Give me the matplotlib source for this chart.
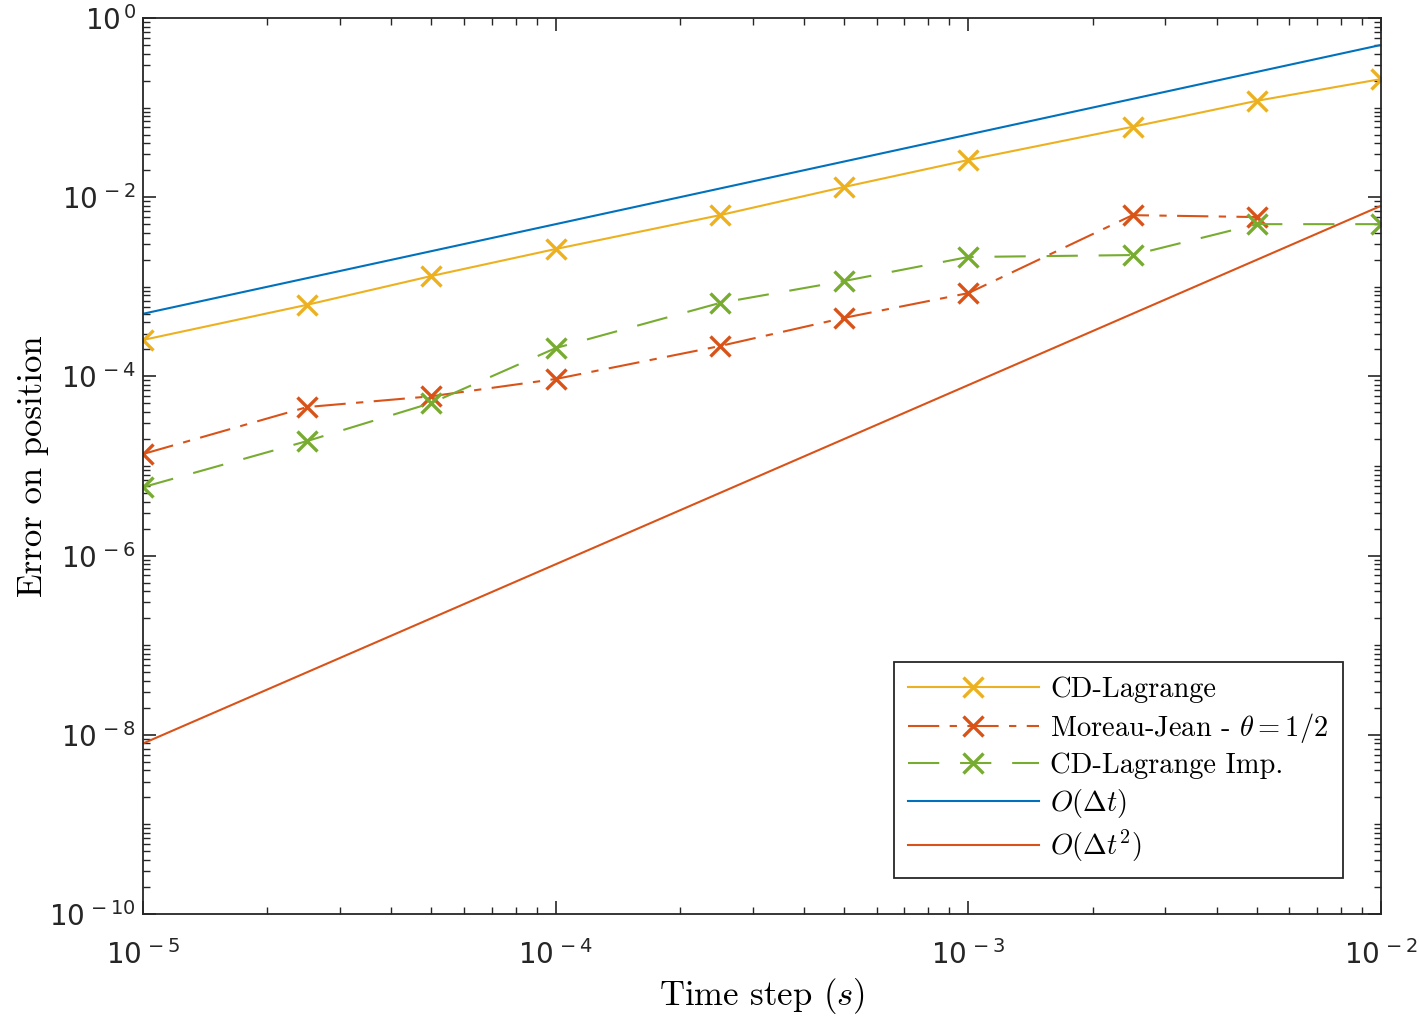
import matplotlib
matplotlib.use('Agg')
import matplotlib.pyplot as plt
import numpy as np
from matplotlib.ticker import LogLocator, FuncFormatter, NullFormatter

plt.rcParams['mathtext.fontset'] = 'cm'

# time steps (s)
dt = [1e-5, 2.5e-5, 5e-5, 1e-4, 2.5e-4, 5e-4, 1e-3, 2.5e-3, 5e-3, 1e-2]

# error on position
err_cd = [2.55e-4, 6.3e-4, 1.32e-3, 2.64e-3, 6.3e-3, 1.3e-2, 2.6e-2, 6.1e-2, 0.119, 0.208]
err_mj = [1.36e-5, 4.55e-5, 6.0e-5, 9.35e-5, 2.18e-4, 4.5e-4, 8.5e-4, 6.3e-3, 6.0e-3]
err_cdi = [5.8e-6, 1.9e-5, 5.05e-5, 2.07e-4, 6.6e-4, 1.16e-3, 2.15e-3, 2.26e-3, 5.0e-3, 5.0e-3]

# reference slopes
ref_dt = [1e-5, 1e-2]
ref_o1 = [5e-4, 0.5]
ref_o2 = [8e-9, 8e-3]

c_blue = '#0072BD'
c_red = '#D95319'
c_yel = '#EDB120'
c_grn = '#77AC30'

fig = plt.figure(figsize=(14.19, 10.16), dpi=100)
ax = fig.add_axes([0.1008, 0.1004, 0.8724, 0.8819])

ax.loglog(dt, err_cd, '-', color=c_yel, lw=1.5, marker='x', ms=14, mew=2.4,
          label='CD-Lagrange')
ax.loglog(dt[:len(err_mj)], err_mj, color=c_red, lw=1.5, ls=(0, (15, 5, 3.5, 5)),
          marker='x', ms=14, mew=2.4, label=r'Moreau-Jean - $\theta = 1/2$')
ax.loglog(dt, err_cdi, color=c_grn, lw=1.5, ls=(0, (15, 10)),
          marker='x', ms=14, mew=2.4, label='CD-Lagrange Imp.')
ax.loglog(ref_dt, ref_o1, '-', color=c_blue, lw=1.5, label=r'$O(\Delta t)$')
ax.loglog(ref_dt, ref_o2, '-', color=c_red, lw=1.5, label=r'$O(\Delta t^2)$')

ax.set_xlim(1e-5, 1e-2)
ax.set_ylim(1e-10, 1)

fmt = FuncFormatter(lambda v, p: r'$\mathregular{10^{\,%d}}$' % round(np.log10(v)))
ax.xaxis.set_major_locator(LogLocator(base=10, numticks=20))
ax.yaxis.set_major_locator(LogLocator(base=100, numticks=20))
ax.xaxis.set_minor_locator(LogLocator(base=10, subs=np.arange(1, 10), numticks=50))
ax.yaxis.set_minor_locator(LogLocator(base=10, subs=np.arange(1, 10), numticks=50))
ax.xaxis.set_major_formatter(fmt)
ax.yaxis.set_major_formatter(fmt)
ax.xaxis.set_minor_formatter(NullFormatter())
ax.yaxis.set_minor_formatter(NullFormatter())

ax.tick_params(which='both', direction='in', top=True, right=True,
               color='#262626', labelcolor='#262626', labelsize=20)
ax.tick_params(which='major', length=9.5, width=1.2)
ax.tick_params(which='minor', length=5, width=1.0)
ax.tick_params(axis='x', which='major', pad=19)
ax.tick_params(axis='y', which='major', pad=5)
for s in ax.spines.values():
    s.set_color('#262626')
    s.set_linewidth(1.3)

ax.set_xlabel('Time step ($s$)', fontfamily='cmr10', fontsize=25, labelpad=4)
ax.set_ylabel('Error on position', fontfamily='cmr10', fontsize=25, labelpad=0)

leg = ax.legend(loc='lower right', bbox_to_anchor=(0.969, 0.040), borderaxespad=0,
                prop={'family': 'cmr10', 'size': 20.5}, handlelength=4.6,
                handletextpad=0.4, labelspacing=0.28, borderpad=0.5,
                fancybox=False, framealpha=1)
leg.get_frame().set_edgecolor('#262626')
leg.get_frame().set_linewidth(1.3)

fig.savefig('out.png', dpi=100)
